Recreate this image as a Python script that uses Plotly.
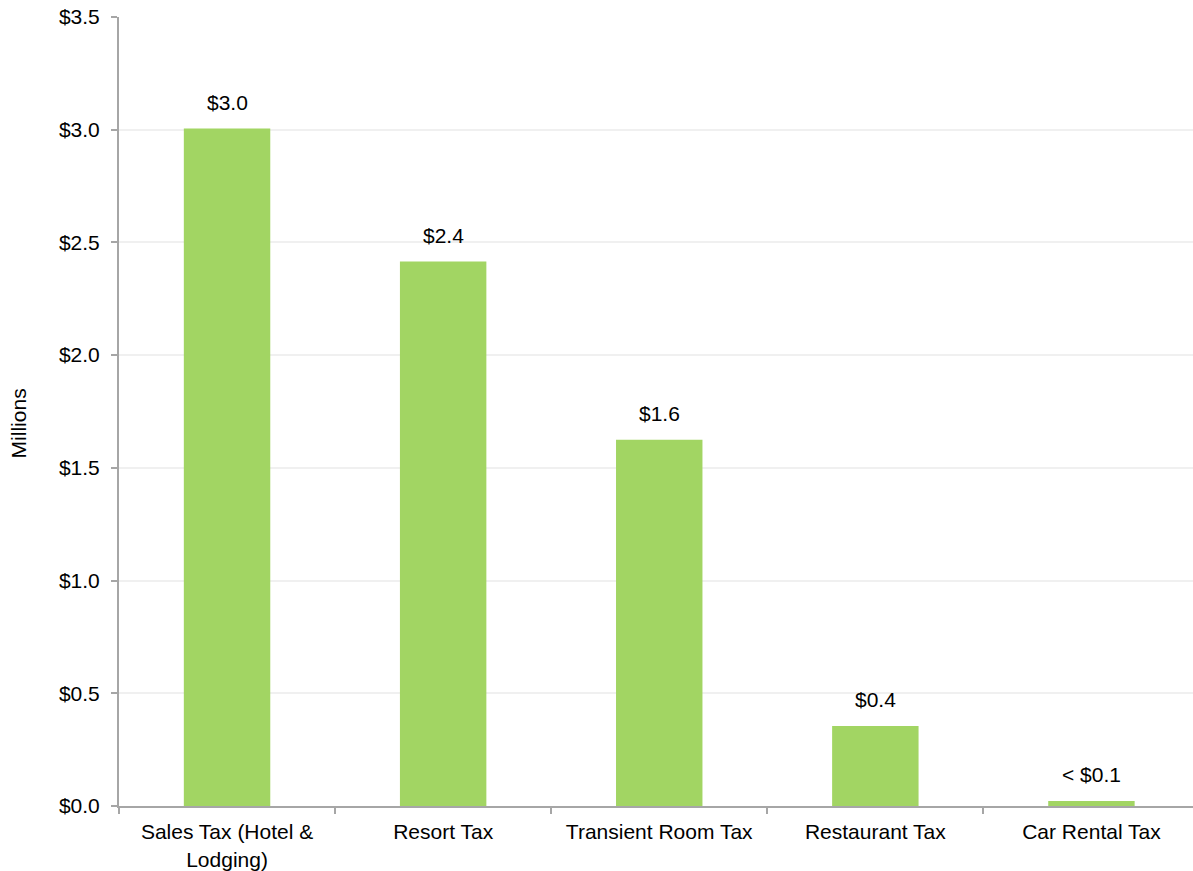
import plotly.graph_objects as go

# Tax revenue by category (millions of dollars)
categories = ["Sales Tax (Hotel &<br>Lodging)", "Resort Tax", "Transient Room Tax",
              "Restaurant Tax", "Car Rental Tax"]
revenue = [3.005, 2.415, 1.625, 0.355, 0.022]
value_labels = ["$3.0", "$2.4", "$1.6", "$0.4", "< $0.1"]

y_ticks = [0.0, 0.5, 1.0, 1.5, 2.0, 2.5, 3.0, 3.5]
y_tick_text = ["$" + f"{v:.1f}" for v in y_ticks]

FONT = "Liberation Sans, Arial, sans-serif"
FS = 21
BAR_COLOR = "#a2d563"
AXIS_COLOR = "#a6a6a6"

fig = go.Figure()
fig.add_trace(go.Bar(
    x=categories,
    y=revenue,
    marker=dict(color=BAR_COLOR, line=dict(width=0)),
    width=0.4,
    hoverinfo="skip",
))

for cat, val, lab in zip(categories, revenue, value_labels):
    fig.add_annotation(
        x=cat, y=val, text=lab, showarrow=False,
        yanchor="bottom", yshift=13,
        font=dict(family=FONT, size=FS, color="#000000"),
    )

# vertical axis title
fig.add_annotation(
    xref="paper", yref="paper", x=-0.094, y=0.485,
    text="Millions", textangle=-90, showarrow=False,
    xanchor="center", yanchor="middle",
    font=dict(family=FONT, size=FS, color="#000000"),
)

fig.update_layout(
    width=1193, height=871,
    margin=dict(l=119, r=0, t=17, b=65),
    paper_bgcolor="white", plot_bgcolor="white",
    showlegend=False,
    font=dict(family=FONT, size=FS, color="#000000"),
)

fig.update_xaxes(
    type="category",
    range=[-0.5, 4.47],
    showline=True, linecolor=AXIS_COLOR, linewidth=2,
    ticks="outside", tickson="boundaries", ticklen=6, tickcolor=AXIS_COLOR, tickwidth=2,
    ticklabelstandoff=6,
    showgrid=False,
    tickfont=dict(family=FONT, size=FS, color="#000000"),
)

fig.update_yaxes(
    range=[0, 3.5],
    tickmode="array", tickvals=y_ticks, ticktext=y_tick_text,
    showline=True, linecolor=AXIS_COLOR, linewidth=2,
    ticks="outside", ticklen=6, tickcolor=AXIS_COLOR, tickwidth=2,
    ticklabelstandoff=7,
    showgrid=True, gridcolor="#f0f0f0", gridwidth=2,
    zeroline=False,
    tickfont=dict(family=FONT, size=FS, color="#000000"),
)

fig.write_html("out.html")
